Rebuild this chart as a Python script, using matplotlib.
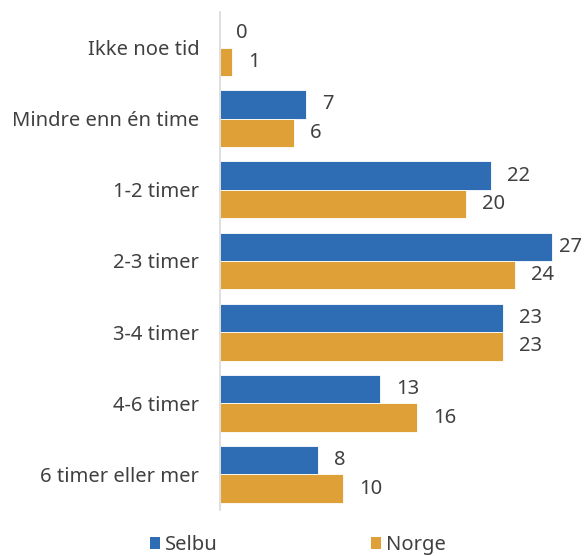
import matplotlib
matplotlib.use("Agg")
import matplotlib.pyplot as plt
from matplotlib.patches import Patch

categories = ["Ikke noe tid", "Mindre enn én time", "1-2 timer", "2-3 timer",
              "3-4 timer", "4-6 timer", "6 timer eller mer"]
selbu = [0, 7, 22, 27, 23, 13, 8]
norge = [1, 6, 20, 24, 23, 16, 10]
series_names = ["Selbu", "Norge"]

BLUE = "#2E6DB4"
ORANGE = "#E0A038"
TEXT = "#404040"

plt.rcParams["font.family"] = ["Noto Sans", "DejaVu Sans"]

W, H, DPI = 584, 556, 100
fig = plt.figure(figsize=(W / DPI, H / DPI), dpi=DPI)
left, right, top, bottom = 220, 584, 12, 510
ax = fig.add_axes([left / W, 1 - bottom / H, (right - left) / W, (bottom - top) / H])

px_per_unit = 12.3
xmax = (right - left) / px_per_unit
n = len(categories)
pos = list(range(n))
bh = 0.4
ax.barh([p - bh / 2 for p in pos], selbu, height=bh, color=BLUE,
        edgecolor="white", linewidth=0.6)
ax.barh([p + bh / 2 for p in pos], norge, height=bh, color=ORANGE,
        edgecolor="white", linewidth=0.6)

fs = 14.5
for p, s, g in zip(pos, selbu, norge):
    for v, yy in ((s, p - bh / 2), (g, p + bh / 2)):
        xt = min(v + 16 / px_per_unit, xmax - 25 / px_per_unit)
        ax.text(xt, yy, str(v), ha="left", va="center", fontsize=fs, color=TEXT)

ax.set_xlim(0, xmax)
ax.set_ylim(n - 0.5, -0.5)
ax.set_yticks(pos)
ax.set_yticklabels(categories, fontsize=fs, color=TEXT)
ax.tick_params(axis="y", length=0, pad=15)
ax.set_xticks([])
for sp in ("top", "right", "bottom"):
    ax.spines[sp].set_visible(False)
ax.spines["left"].set_color("#D9D9D9")
ax.spines["left"].set_linewidth(1.2)

handles = [Patch(facecolor=BLUE, label=series_names[0]),
           Patch(facecolor=ORANGE, label=series_names[1])]
fig.legend(handles=handles, loc="center", bbox_to_anchor=(298 / W, 1 - 545 / H),
           ncol=2, frameon=False, fontsize=fs, handlelength=0.5, handleheight=0.5,
           handletextpad=0.25, columnspacing=7.6, labelcolor=TEXT)

fig.savefig("out.png", dpi=DPI)
